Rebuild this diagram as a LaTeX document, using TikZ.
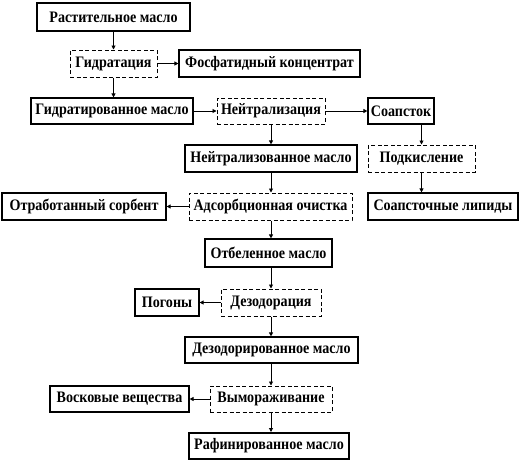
\documentclass[tikz,border=0pt]{standalone}
\usepackage{fontspec}
\setmainfont{Liberation Serif}[FakeStretch=0.88]
\usetikzlibrary{arrows.meta}
\begin{document}
\begin{tikzpicture}[x=1pt,y=-1pt,
  every node/.style={font=\fontsize{16}{18}\selectfont\bfseries, inner sep=0pt, align=center},
  solidbox/.style={draw, line width=1.2pt},
  thickbox/.style={draw, line width=2pt},
  dashbox/.style={draw, line width=1pt, dash pattern=on 4pt off 2.5pt},
  arr/.style={line width=0.9pt, -{Triangle[length=4pt,width=4pt]}}
]
\useasboundingbox (0,0) rectangle (521,463);
\fill[white] (0,0) rectangle (521,463);
\newcommand\bx[6]{\node[#1, minimum width=#4pt, minimum height=#5pt] (#2) at (#3) {#6};}
\bx{thickbox}{R}{113.5,17}{153}{28}{Растительное масло}
\bx{dashbox}{G}{113.5,63.5}{87}{27}{Гидратация}
\bx{solidbox}{F}{269.5,63.5}{181}{27}{Фосфатидный концентрат}
\bx{solidbox}{GM}{112,111}{162}{26}{Гидратированное масло}
\bx{dashbox}{N}{271,111}{108}{26}{Нейтрализация}
\bx{solidbox}{S}{401,111}{66}{26}{Соапсток}
\bx{solidbox}{NM}{271,158.5}{172}{27}{Нейтрализованное масло}
\bx{dashbox}{P}{421.5,158.5}{107}{27}{Подкисление}
\bx{solidbox}{OS}{84,206.5}{164}{27}{Отработанный сорбент}
\bx{dashbox}{A}{270.5,206.5}{163}{27}{Адсорбционная очистка}
\bx{solidbox}{SL}{443,206.5}{150}{27}{Соапсточные липиды}
\bx{solidbox}{OM}{268.5,253}{127}{28}{Отбеленное масло}
\bx{solidbox}{Pg}{167,302.5}{64}{27}{Погоны}
\bx{dashbox}{D}{271,302.5}{100}{27}{Дезодорация}
\bx{solidbox}{DM}{271.5,350}{173}{26}{Дезодорированное масло}
\bx{dashbox}{V}{271,399}{122}{26}{Вымораживание}
\bx{solidbox}{VV}{119.5,399}{139}{26}{Восковые вещества}
\bx{thickbox}{RM}{269,446}{160}{26}{Рафинированное масло}
\draw[arr] (R.south) -- (R.south |- G.north);
\draw[arr] (G.east) -- (F.west);
\draw[arr] (G.south) -- (G.south |- GM.north);
\draw[arr] (GM.east) -- (N.west);
\draw[arr] (N.east) -- (S.west);
\draw[arr] (N.south) -- (N.south |- NM.north);
\draw[arr] (S.south -| P.south) -- (P.north);
\draw[arr] (P.south) -- (P.south |- SL.north);
\draw[arr] (NM.south) -- (NM.south |- A.north);
\draw[arr] (A.west) -- (OS.east);
\draw[arr] (NM.south |- A.south) -- (NM.south |- OM.north);
\draw[arr] (NM.south |- OM.south) -- (NM.south |- D.north);
\draw[arr] (D.west) -- (Pg.east);
\draw[arr] (D.south) -- (D.south |- DM.north);
\draw[arr] (D.south |- DM.south) -- (D.south |- V.north);
\draw[arr] (V.west) -- (VV.east);
\draw[arr] (V.south) -- (V.south |- RM.north);
\end{tikzpicture}
\end{document}
